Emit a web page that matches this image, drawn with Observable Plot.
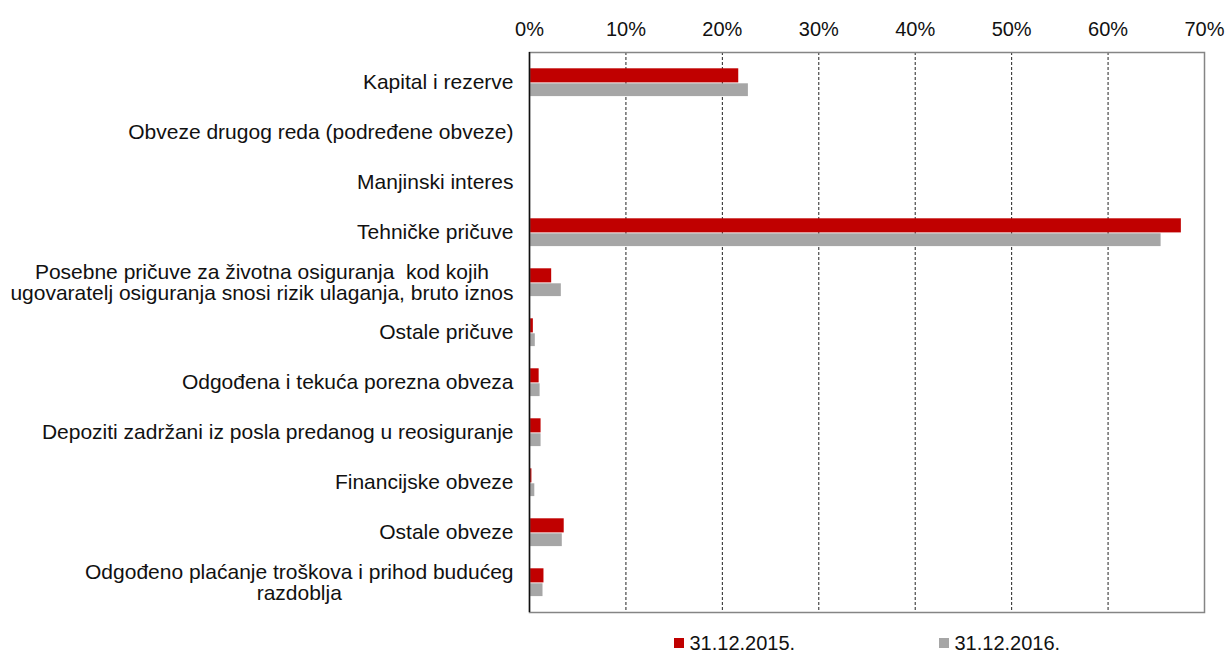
<!DOCTYPE html>
<html>
<head>
<meta charset="utf-8">
<script src="https://cdn.jsdelivr.net/npm/d3@7"></script>
<script src="https://cdn.jsdelivr.net/npm/@observablehq/plot@0.6"></script>
<style>
  html, body { margin: 0; padding: 0; background: #fff; overflow: hidden; }
  body { width: 1226px; height: 652px; font-family: "Liberation Sans", Arial, sans-serif; }
  #chart svg { display: block; }
  #legend { position: relative; height: 30px; margin-top: 16px; font-size: 20px; color: #111; }
  #legend .item { position: absolute; top: 0; white-space: nowrap; line-height: 24px; }
  #legend .sw { display: inline-block; width: 10px; height: 10px; margin-right: 5.5px; vertical-align: 2px; }
</style>
</head>
<body>
<div id="chart"></div>
<div id="legend"></div>
<script>
const categories = [
  "Kapital i rezerve",
  "Obveze drugog reda (podređene obveze)",
  "Manjinski interes",
  "Tehničke pričuve",
  "Posebne pričuve za životna osiguranja  kod kojih\nugovaratelj osiguranja snosi rizik ulaganja, bruto iznos",
  "Ostale pričuve",
  "Odgođena i tekuća porezna obveza",
  "Depoziti zadržani iz posla predanog u reosiguranje",
  "Financijske obveze",
  "Ostale obveze",
  "Odgođeno plaćanje troškova i prihod budućeg\nrazdoblja"
];
const seriesNames = ["31.12.2015.", "31.12.2016."];
const values2015 = [21.7, 0, 0, 67.6, 2.3, 0.4, 1.0, 1.2, 0.25, 3.6, 1.5];
const values2016 = [22.7, 0, 0, 65.5, 3.3, 0.6, 1.1, 1.2, 0.55, 3.4, 1.4];
const xTicks = [0, 10, 20, 30, 40, 50, 60, 70];
const colors = ["#C00000", "#A6A6A6"];

const rows2015 = categories.map((c, i) => ({category: c, value: values2015[i]}));
const rows2016 = categories.map((c, i) => ({category: c, value: values2016[i]}));

const chart = Plot.plot({
  width: 1226,
  height: 615,
  marginLeft: 529,
  marginRight: 22,
  marginTop: 52,
  marginBottom: 3,
  style: {fontFamily: "'Liberation Sans', Arial, sans-serif", fontSize: "20px", color: "#111", background: "#fff"},
  x: {domain: [0, 70], ticks: xTicks},
  y: {domain: categories, padding: 0},
  marks: [
    Plot.ruleX(xTicks.slice(1, -1), {stroke: "#222", strokeDasharray: "3,2", strokeWidth: 1}),
    Plot.barX(rows2015, {y: "category", x: "value", fill: colors[0], insetTop: 11.3, insetBottom: 24.6}),
    Plot.barX(rows2016, {y: "category", x: "value", fill: colors[1], insetTop: 26.3, insetBottom: 10.9}),
    Plot.frame({stroke: "#858585", strokeWidth: 1.5}),
    Plot.ruleX([0], {stroke: "#111", strokeWidth: 1.5}),
    Plot.axisX({anchor: "top", ticks: xTicks, tickSize: 0, tickPadding: 17, tickFormat: d => d + "%", label: null, fontSize: 20, fill: "#111"}),
    Plot.axisY({tickSize: 0, tickPadding: 16, label: null, fontSize: 21, fill: "#111", lineHeight: 1.0, textOverflow: null})
  ]
});
document.getElementById("chart").appendChild(chart);

// center multi-line category labels within their right-aligned block
chart.querySelectorAll('g[aria-label="y-axis tick label"] text').forEach(t => {
  const spans = t.querySelectorAll("tspan");
  if (spans.length > 1) {
    let w = 0;
    spans.forEach(s => { w = Math.max(w, s.getComputedTextLength()); });
    t.setAttribute("text-anchor", "middle");
    spans.forEach(s => s.setAttribute("x", -w / 2));
  }
});

const legend = document.getElementById("legend");
const legendLeft = [674, 939];
seriesNames.forEach((name, i) => {
  const item = document.createElement("span");
  item.className = "item";
  item.style.left = legendLeft[i] + "px";
  const sw = document.createElement("span");
  sw.className = "sw";
  sw.style.background = colors[i];
  item.appendChild(sw);
  item.appendChild(document.createTextNode(name));
  legend.appendChild(item);
});
</script>
</body>
</html>
